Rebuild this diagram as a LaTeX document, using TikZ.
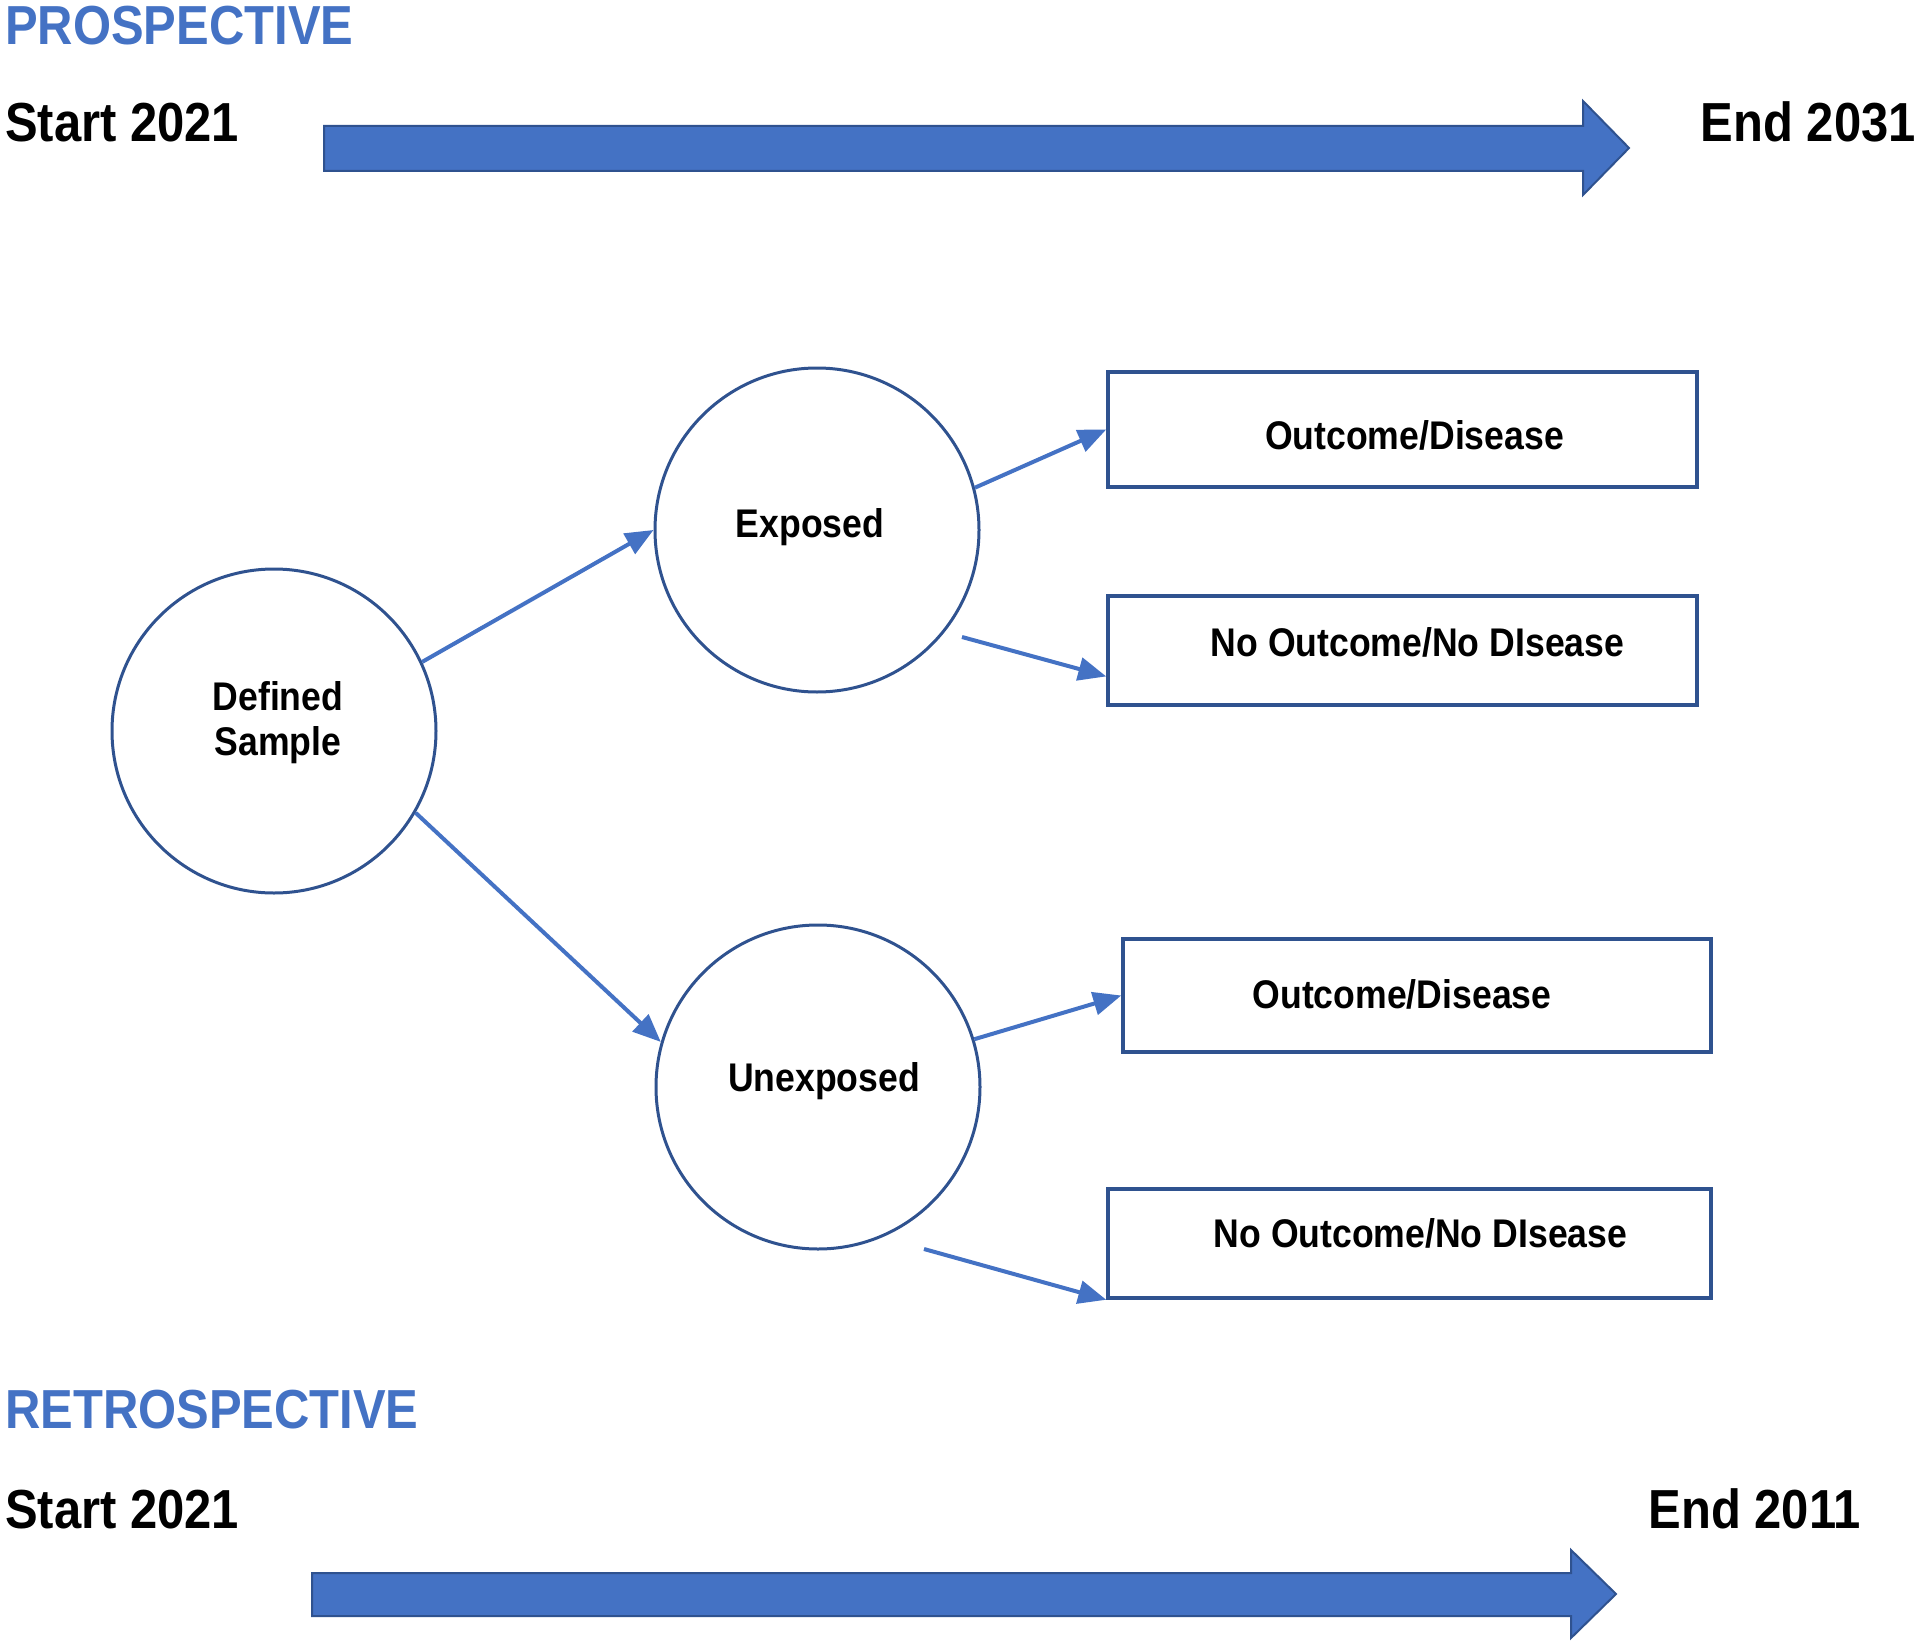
\documentclass[tikz,border=0pt]{standalone}
\usepackage{fontspec}
\setmainfont{Liberation Sans}[FakeStretch=0.89]
\usetikzlibrary{arrows.meta,calc}
\definecolor{accent}{HTML}{4472C4}
\definecolor{edge}{HTML}{2F528F}
\begin{document}
\begin{tikzpicture}[x=1pt,y=-1pt,
  bigtext/.style={font=\fontsize{55}{60}\selectfont\bfseries, inner sep=0pt},
  headtext/.style={bigtext, text=accent},
  blockarrow/.style={fill=accent, draw=edge, line width=2pt, line join=miter},
  midtext/.style={font=\fontsize{40}{45}\selectfont\bfseries, align=center, inner sep=0pt},
  circ/.style={circle, draw=edge, line width=3pt, minimum size=324pt, inner sep=0pt},
  boxnode/.style={rectangle, draw=edge, line width=3.5pt, inner sep=0pt},
  conn/.style={draw=accent, line width=4pt, -{Triangle[length=28pt,width=23pt]}}
]
\useasboundingbox (0,0) rectangle (1920,1648);

% top section
\node[headtext, anchor=base west] (prosp) at (5,45) {PROSPECTIVE};
\node[bigtext, anchor=base west] (start1) at (5,142) {Start 2021};
\node[bigtext, anchor=base east] (end1) at (1916,142) {End 2031};
\draw[blockarrow] (324,126) -- (1583,126) -- (1583,101) -- (1629,148) -- (1583,195) -- (1583,171) -- (324,171) -- cycle;

% circles
\node[circ, label={[midtext, xshift=4pt, yshift=8pt]center:Defined\\Sample}] (ds) at (274,731) {};
\node[circ, label={[midtext, xshift=-7pt, yshift=3pt]center:Exposed}] (exp) at (817,530) {};
\node[circ, label={[midtext, xshift=6pt, yshift=6pt]center:Unexposed}] (unexp) at (818,1087) {};

% boxes
\node[boxnode, minimum width=589pt, minimum height=115pt,
  label={[midtext, xshift=12pt, yshift=-6pt]center:Outcome/Disease}] (b1) at (1402.5,429.5) {};
\node[boxnode, minimum width=589pt, minimum height=109pt,
  label={[midtext, xshift=15pt, yshift=8pt]center:No Outcome/No DIsease}] (b2) at (1402.5,650.5) {};
\node[boxnode, minimum width=588pt, minimum height=113pt,
  label={[midtext, xshift=-15pt, yshift=1pt]center:Outcome/Disease}] (b3) at (1417,995.5) {};
\node[boxnode, minimum width=603pt, minimum height=109pt,
  label={[midtext, xshift=11pt, yshift=10pt]center:No Outcome/No DIsease}] (b4) at (1409.5,1243.5) {};

% free connector starts
\coordinate (e2s) at (962,637);
\coordinate (u4s) at (924,1249);

% connectors
\draw[conn] (ds.25) -- (exp.180);
\draw[conn] (ds.-30) -- (unexp.164);
\draw[conn] (exp.15) -- (b1.west);
\draw[conn] (e2s) -- (b2.185);
\draw[conn] (unexp.17) -- (b3.west);
\draw[conn] (u4s) -- (b4.south west);

% bottom section
\node[headtext, anchor=base west] (retro) at (5,1428) {RETROSPECTIVE};
\node[bigtext, anchor=base west] (start2) at (5,1528) {Start 2021};
\node[bigtext, anchor=base east] (end2) at (1861,1528) {End 2011};
\draw[blockarrow] (312,1573) -- (1571,1573) -- (1571,1550) -- (1616,1594) -- (1571,1638) -- (1571,1616) -- (312,1616) -- cycle;
\end{tikzpicture}
\end{document}
